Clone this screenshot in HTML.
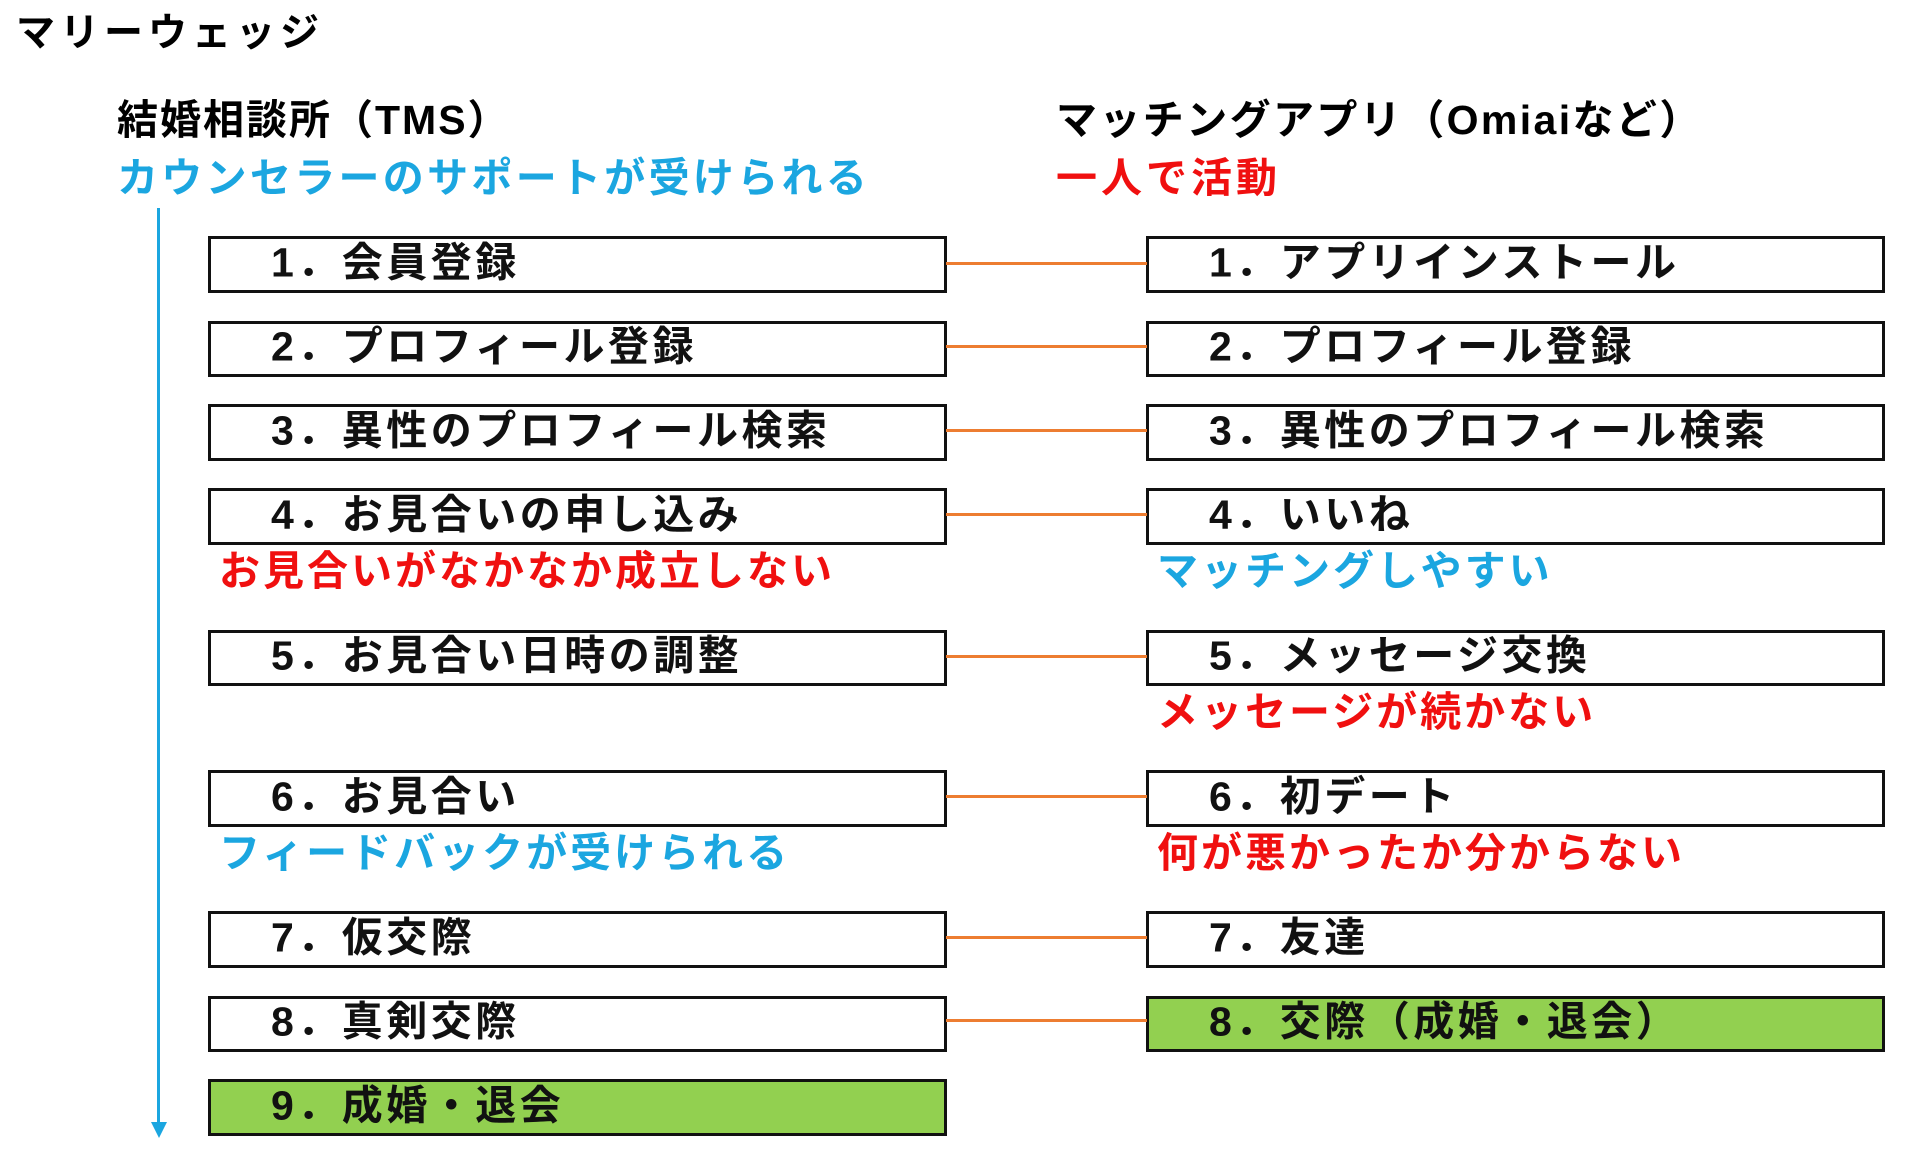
<!DOCTYPE html>
<html><head><meta charset="utf-8"><style>
body{margin:0;width:1920px;height:1166px;background:#fff;position:relative;overflow:hidden;font-family:"Liberation Sans","Noto Sans CJK JP",sans-serif;font-weight:bold}
.t{position:absolute;white-space:nowrap;font-size:41px;line-height:1;letter-spacing:3px}
.b{position:absolute;box-sizing:border-box;border:3.5px solid #111;background:#fff}
.b span{position:absolute;left:60px;top:50%;transform:translateY(-55%);font-size:41px;line-height:1;white-space:nowrap;letter-spacing:3.5px;color:#111}
.g{background:#92d050}
.c{position:absolute;height:3px;background:#ed7d31;left:946px;width:201px}
.blue{color:#1ba6e0}.red{color:#f01010}
</style></head><body>
<div class="t" style="left:16px;top:14px;font-size:39px;letter-spacing:5px">マリーウェッジ</div>
<div class="t" style="left:117px;top:100px;letter-spacing:2px">結婚相談所（TMS）</div>
<div class="t blue" style="left:117px;top:158px;letter-spacing:3.3px">カウンセラーのサポートが受けられる</div>
<div class="t" style="left:1056px;top:100px;letter-spacing:2.4px">マッチングアプリ（Omiaiなど）</div>
<div class="t red" style="left:1056px;top:158px;letter-spacing:4px">一人で活動</div>

<div style="position:absolute;left:157px;top:208px;width:3px;height:920px;background:#1ba6e0"></div>
<svg style="position:absolute;left:146px;top:1122px" width="26" height="18"><polygon points="5,0 21,0 13,16" fill="#1ba6e0"/></svg>

<div class="b" style="left:208px;top:236px;width:739px;height:57px"><span>1．会員登録</span></div>
<div class="b" style="left:208px;top:321px;width:739px;height:56px"><span>2．プロフィール登録</span></div>
<div class="b" style="left:208px;top:404px;width:739px;height:57px"><span>3．異性のプロフィール検索</span></div>
<div class="b" style="left:208px;top:488px;width:739px;height:57px"><span>4．お見合いの申し込み</span></div>
<div class="b" style="left:208px;top:630px;width:739px;height:56px"><span>5．お見合い日時の調整</span></div>
<div class="b" style="left:208px;top:770px;width:739px;height:57px"><span>6．お見合い</span></div>
<div class="b" style="left:208px;top:911px;width:739px;height:57px"><span>7．仮交際</span></div>
<div class="b" style="left:208px;top:996px;width:739px;height:56px"><span>8．真剣交際</span></div>
<div class="b g" style="left:208px;top:1079px;width:739px;height:57px"><span>9．成婚・退会</span></div>

<div class="b" style="left:1146px;top:236px;width:739px;height:57px"><span>1．アプリインストール</span></div>
<div class="b" style="left:1146px;top:321px;width:739px;height:56px"><span>2．プロフィール登録</span></div>
<div class="b" style="left:1146px;top:404px;width:739px;height:57px"><span>3．異性のプロフィール検索</span></div>
<div class="b" style="left:1146px;top:488px;width:739px;height:57px"><span>4．いいね</span></div>
<div class="b" style="left:1146px;top:630px;width:739px;height:56px"><span>5．メッセージ交換</span></div>
<div class="b" style="left:1146px;top:770px;width:739px;height:57px"><span>6．初デート</span></div>
<div class="b" style="left:1146px;top:911px;width:739px;height:57px"><span>7．友達</span></div>
<div class="b g" style="left:1146px;top:996px;width:739px;height:56px"><span>8．交際（成婚・退会）</span></div>

<div class="c" style="top:262px"></div>
<div class="c" style="top:345px"></div>
<div class="c" style="top:429px"></div>
<div class="c" style="top:513px"></div>
<div class="c" style="top:655px"></div>
<div class="c" style="top:795px"></div>
<div class="c" style="top:936px"></div>
<div class="c" style="top:1019px"></div>

<div class="t red" style="left:219px;top:551px">お見合いがなかなか成立しない</div>
<div class="t blue" style="left:1157px;top:551px">マッチングしやすい</div>
<div class="t red" style="left:1157px;top:692px">メッセージが続かない</div>
<div class="t blue" style="left:219px;top:833px">フィードバックが受けられる</div>
<div class="t red" style="left:1157px;top:833px">何が悪かったか分からない</div>
</body></html>
